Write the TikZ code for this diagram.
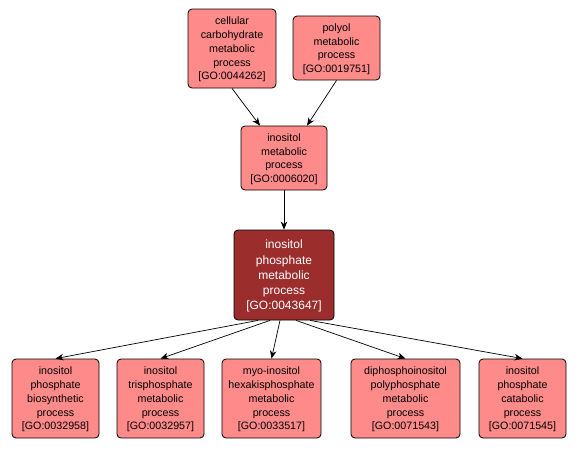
\documentclass[tikz,border=0pt]{standalone}
\usepackage{fontspec}
\setmainfont{Liberation Sans}
\usetikzlibrary{positioning, arrows.meta}
\definecolor{termfill}{RGB}{255,138,138}
\definecolor{rootfill}{RGB}{155,45,45}
\tikzset{
  goterm/.style={draw=black, line width=0.8pt, fill=termfill, rounded corners=4pt,
    align=center, inner sep=0pt, text depth=0pt,
    font=\fontsize{10.7}{13.7}\selectfont},
  goroot/.style={goterm, fill=rootfill, text=white, font=\fontsize{12}{15.2}\selectfont},
  isa/.style={-{Stealth[length=8pt, width=6.5pt, inset=2.5pt]}, line width=0.7pt}
}
\begin{document}
\begin{tikzpicture}[x=1pt, y=-1pt]

    % --- CANVAS ---
    \useasboundingbox[fill=white] (0,0) rectangle (579,448);

    % --- TOP ROW ---
    \node[goterm, minimum width=88pt, minimum height=79pt] (carb) at (232,48.5)
      {cellular\\carbohydrate\\metabolic\\process\\{[GO:0044262]}};
    \node[goterm, minimum width=87pt, minimum height=64pt] (polyol) at (336.5,48)
      {polyol\\metabolic\\process\\{[GO:0019751]}};

    % --- MIDDLE ROW ---
    \node[goterm, minimum width=86pt, minimum height=64pt] (inos) at (284,158)
      {inositol\\metabolic\\process\\{[GO:0006020]}};
    % highlighted term
    \node[goroot, minimum width=100pt, minimum height=90pt] (inosp) at (284,275)
      {inositol\\phosphate\\metabolic\\process\\{[GO:0043647]}};

    % --- BOTTOM ROW ---
    \node[goterm, minimum width=87pt, minimum height=79pt] (biosyn) at (55.5,398.5)
      {inositol\\phosphate\\biosynthetic\\process\\{[GO:0032958]}};
    \node[goterm, minimum width=87pt, minimum height=79pt] (trisp) at (160.5,398.5)
      {inositol\\trisphosphate\\metabolic\\process\\{[GO:0032957]}};
    \node[goterm, minimum width=99pt, minimum height=79pt] (hexak) at (271.5,398.5)
      {myo-inositol\\hexakisphosphate\\metabolic\\process\\{[GO:0033517]}};
    \node[goterm, minimum width=109pt, minimum height=79pt] (diph) at (405.5,398.5)
      {diphosphoinositol\\polyphosphate\\metabolic\\process\\{[GO:0071543]}};
    \node[goterm, minimum width=87pt, minimum height=79pt] (catab) at (522.5,398.5)
      {inositol\\phosphate\\catabolic\\process\\{[GO:0071545]}};

    % --- IS-A EDGES ---
    \draw[isa] (carb.south) -- ([xshift=-24pt]inos.north);
    \draw[isa] (polyol.south) -- ([xshift=23pt]inos.north);
    \draw[isa] (inos) -- (inosp);
    \draw[isa] ([xshift=-26pt]inosp.south) -- (biosyn.north);
    \draw[isa] ([xshift=-14pt]inosp.south) -- (trisp.north);
    \draw[isa] ([xshift=-4pt]inosp.south) -- (hexak.north);
    \draw[isa] ([xshift=12pt]inosp.south) -- (diph.north);
    \draw[isa] ([xshift=26pt]inosp.south) -- (catab.north);

\end{tikzpicture}
\end{document}
